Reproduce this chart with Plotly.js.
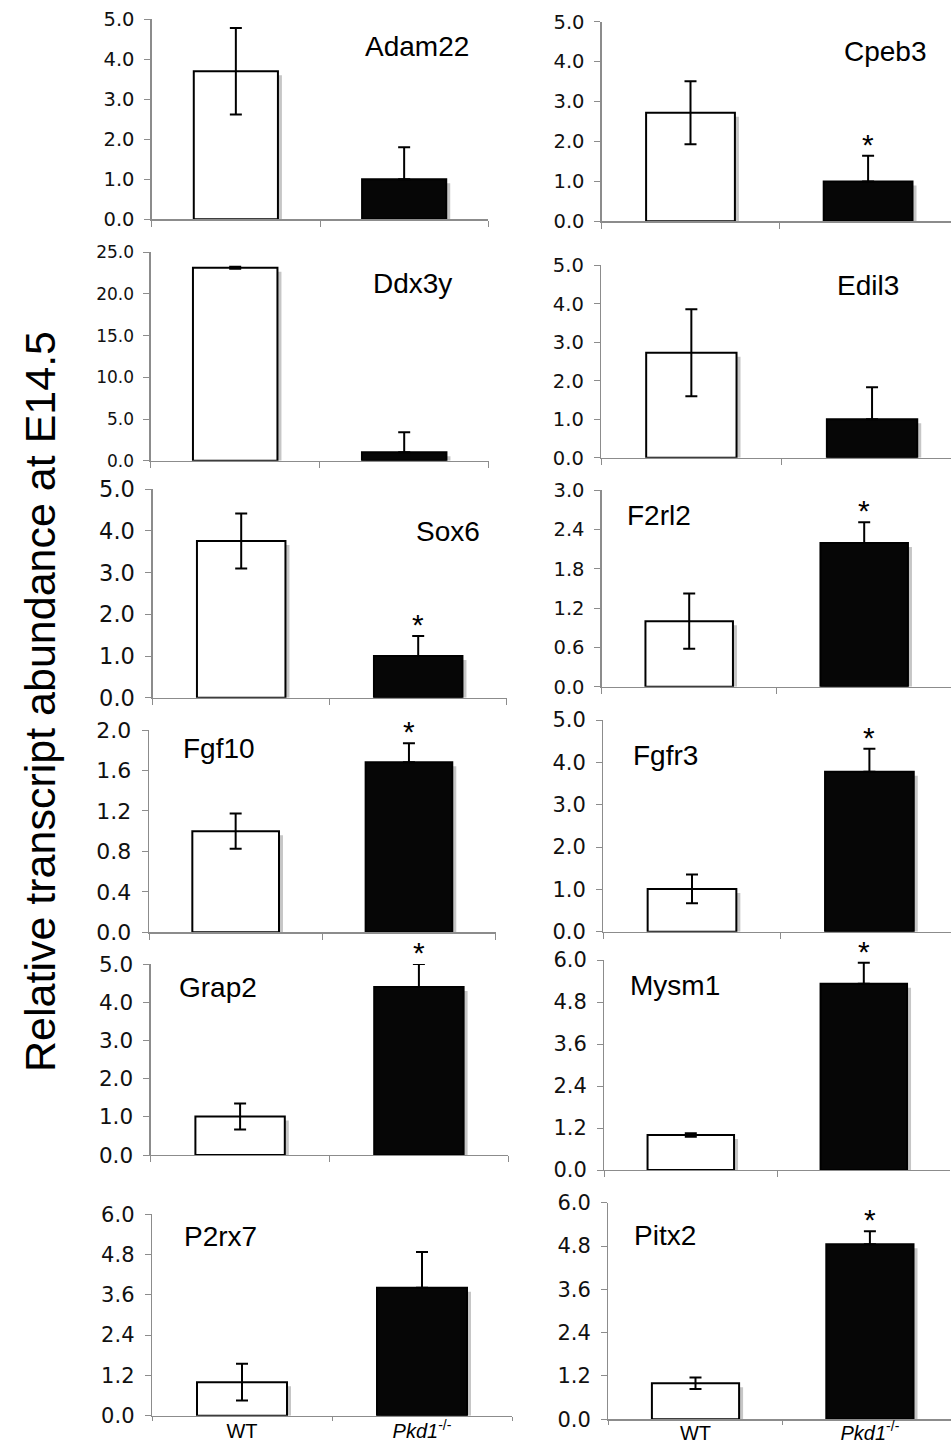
<!DOCTYPE html>
<html>
<head>
<meta charset="utf-8">
<script src="https://cdn.plot.ly/plotly-3.0.1.min.js"></script>
<style>html,body{margin:0;padding:0;background:#fff;}#chart{width:951px;height:1445px;}</style>
</head>
<body>
<div id="chart"></div>
<script>
// ---- data ----
const genes = ["Adam22","Cpeb3","Ddx3y","Edil3","Sox6","F2rl2","Fgf10","Fgfr3","Grap2","Mysm1","P2rx7","Pitx2"];
const groups = ["WT", "<i>Pkd1</i><sup>-/-</sup>"];
const wtMean = [3.70, 2.72, 23.15, 2.73, 3.76, 1.00, 1.00, 1.01, 1.01, 1.00, 1.00, 1.00];
const wtErr  = [1.08, 0.79, 0.12, 1.13, 0.66, 0.42, 0.175, 0.34, 0.34, 0.05, 0.55, 0.16];
const koMean = [1.00, 1.00, 1.00, 1.00, 1.00, 2.19, 1.68, 3.78, 4.40, 5.32, 3.81, 4.85];
const koErr  = [0.80, 0.64, 2.40, 0.83, 0.48, 0.32, 0.19, 0.54, 0.60, 0.60, 1.07, 0.36];
const significant = [false, true, false, false, true, true, true, true, true, true, false, true];
const yMax  = [5, 5, 25, 5, 5, 3, 2, 5, 5, 6, 6, 6];
const yStep = [1, 1, 5, 1, 1, 0.6, 0.4, 1, 1, 1.2, 1.2, 1.2];
const yTitle = "Relative transcript abundance at E14.5";

// ---- layout geometry (pixels in the 951x1445 figure) ----
const W = 951, H = 1445;
const axisPx = [151.7, 601.7, 150.7, 601, 152.7, 601.7, 149, 603.3, 150.7, 604.3, 152, 608.3];
const catPx  = [168.3, 177.6, 169, 180.7, 177, 175, 173.3, 177.4, 178.8, 173, 180, 174.4];
const topPx  = [19.3, 21.7, 252.3, 265.3, 489.3, 490, 730, 720, 964, 960, 1214.3, 1202.7];
const botPx  = [219.3, 221.3, 460.7, 457.7, 697.7, 686.7, 932.3, 931.7, 1155, 1170, 1415.7, 1419.3];
const labelX = [417, 885, 412, 868, 448, 659, 219, 665, 218, 675, 220, 665];
const labelY = [46, 52, 283, 285, 531, 516, 749, 755, 987, 985, 1236, 1235];
const tickSize = [19.5, 19.5, 17, 19.5, 22.5, 19.5, 22, 21, 21.5, 21, 21, 21];

const axisGrey = "#8c8c8c";
const traces = [];
const layout = {
  width: W, height: H,
  margin: {l: 0, r: 0, t: 0, b: 0},
  paper_bgcolor: "#fff", plot_bgcolor: "rgba(0,0,0,0)",
  showlegend: false,
  barmode: "overlay",
  annotations: [],
  font: {family: "DejaVu Sans", color: "#000"}
};

for (let i = 0; i < genes.length; i++) {
  const sfx = i === 0 ? "" : String(i + 1);
  const xa = "x" + sfx, ya = "y" + sfx;
  const x0 = axisPx[i];
  const x1 = Math.min(x0 + 2 * catPx[i], W);
  const plotH = botPx[i] - topPx[i];
  const bottomRow = i >= 10;

  layout["xaxis" + sfx] = {
    domain: [x0 / W, x1 / W],
    anchor: ya,
    type: "category",
    range: [-0.5, -0.5 + (x1 - x0) / catPx[i]],
    showline: true, linecolor: axisGrey, linewidth: 1.3,
    ticks: "outside", ticklen: bottomRow ? 4 : 6, tickcolor: axisGrey, tickwidth: 1,
    tickson: "boundaries",
    ticklabelstandoff: i === 11 ? -5 : (bottomRow ? -3 : 0),
    showgrid: false, zeroline: false,
    showticklabels: bottomRow,
    tickfont: {family: "Liberation Sans", size: 20, color: "#000"},
    fixedrange: true
  };
  layout["yaxis" + sfx] = {
    domain: [1 - botPx[i] / H, 1 - topPx[i] / H],
    anchor: xa,
    range: [0, yMax[i]],
    tick0: 0, dtick: yStep[i], tickformat: ".1f",
    showline: true, linecolor: axisGrey, linewidth: 1.3,
    ticks: "outside", ticklen: 6, tickcolor: axisGrey, tickwidth: 1,
    ticklabelstandoff: 6,
    showgrid: false, zeroline: false,
    tickfont: {family: "DejaVu Sans", size: tickSize[i], color: "#111"},
    fixedrange: true
  };

  const vals = [wtMean[i], koMean[i]];
  const shadowDy = 4 * yMax[i] / plotH;      // 4 px drop shadow
  const shadowDx = 4 / catPx[i];
  // drop shadow
  traces.push({
    type: "bar", x: groups, y: vals.map(v => v - shadowDy),
    width: 0.5, offset: -0.25 + shadowDx,
    marker: {color: "#c6c6c6", line: {width: 0}},
    xaxis: xa, yaxis: ya, hoverinfo: "skip", cliponaxis: true
  });
  // bars with error bars
  traces.push({
    type: "bar", x: groups, y: vals,
    width: 0.5,
    marker: {color: ["#ffffff", "#060606"], line: {color: "#000", width: 2}},
    error_y: {type: "data", symmetric: false, array: [wtErr[i], koErr[i]], arrayminus: [wtErr[i], 0],
              color: "#000", thickness: 2, width: 6},
    xaxis: xa, yaxis: ya
  });

  // gene name
  layout.annotations.push({
    xref: "paper", yref: "paper", x: labelX[i] / W, y: 1 - labelY[i] / H,
    xanchor: "center", yanchor: "middle", showarrow: false,
    text: genes[i], font: {family: "Liberation Sans", size: 28, color: "#000"}
  });
  // significance star
  if (significant[i]) {
    layout.annotations.push({
      xref: xa, yref: ya, x: 1, y: koMean[i] + koErr[i],
      xanchor: "center", yanchor: "bottom", yshift: -7, showarrow: false,
      text: "*", font: {family: "Liberation Sans", size: 30, color: "#000"}
    });
  }
}

layout.annotations.push({
  xref: "paper", yref: "paper", x: 40 / W, y: 1 - 702 / H,
  xanchor: "center", yanchor: "middle", showarrow: false, textangle: -90,
  text: yTitle, font: {family: "Liberation Sans", size: 43, color: "#000"}
});

Plotly.newPlot("chart", traces, layout, {staticPlot: true, displayModeBar: false});
</script>
</body>
</html>
